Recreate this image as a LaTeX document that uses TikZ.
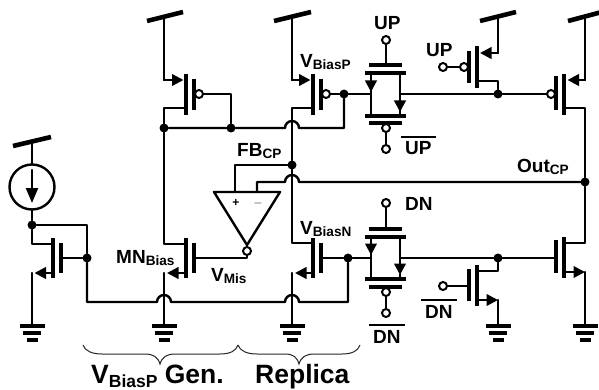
\documentclass[tikz,border=0pt]{standalone}
\usepackage{fontspec}
\setmainfont{Liberation Sans}
\usetikzlibrary{arrows.meta}
\usetikzlibrary{positioning}

\newcommand{\lblsub}[1]{\raisebox{-2pt}{\fontsize{13.6}{15}\selectfont #1}}
\newcommand{\barlbl}[1]{\vbox{\hrule height 1.6pt\vskip 4pt\hbox{\kern4pt #1\kern4pt}}}

\tikzset{
  wire/.style={line width=2.4pt,black,line cap=round,line join=round},
  chan/.style={line width=4pt,black},
  vddbar/.style={line width=4.6pt,black},
  gndone/.style={line width=3.4pt,black},
  src/.style={wire,-{Triangle[length=11.5pt,width=11.5pt]}},
  jdot/.style={circle,fill=black,inner sep=0pt,minimum size=9pt},
  pin/.style={circle,draw=black,fill=white,line width=2pt,inner sep=0pt,minimum size=8pt},
  lbl/.style={anchor=base west,inner sep=0pt,font=\bfseries\fontsize{19}{22}\selectfont},
  biglbl/.style={anchor=base west,inner sep=0pt,font=\bfseries\fontsize{26.5}{30}\selectfont},
  brace/.style={line width=1pt,black!85}
}

\begin{document}
\begin{tikzpicture}[x=1pt,y=-1pt]
\useasboundingbox (0,0) rectangle (599,390);

%supply bars
\draw[vddbar](147,21)--(183,12);
\draw[vddbar](274,21)--(311,12);
\draw[vddbar](480,21)--(516,12);
\draw[vddbar](568,21)--(600,12.5);
\draw[vddbar](13,146)--(51,137);

%ground bars
\foreach \gx in {32,164,292,498,585}{
\draw[gndone](\gx-12.5,326)--(\gx+12.5,326);
\draw[gndone](\gx-9,333)--(\gx+9,333);
\draw[gndone](\gx-5.5,340)--(\gx+5.5,340);
}

%junctions
\node[jdot] (biasdot) at (32,225) {};
\node[jdot] (mirdot) at (87,258) {};
\node[jdot] (gendot) at (164,128) {};
\node[jdot] (gatedot) at (231,128) {};
\node[jdot] (fbdot) at (292,165) {};
\node[jdot] (pgdot) at (344,94) {};
\node[jdot] (ngdot) at (348,258) {};
\node[jdot] (updot) at (498,94) {};
\node[jdot] (dndot) at (498,258) {};
\node[jdot] (outdot) at (585,182) {};

%current source
\node[circle,draw=black,line width=2.4pt,inner sep=0pt,minimum size=45pt] (isrc) at (32,187) {};
\draw[wire](32,142)--(isrc.north);
\draw[wire,-{Triangle[length=15pt,width=12pt]}](32,170)--(32,203);
\draw[wire](isrc.south)--(biasdot);

%diode device on the left
\draw[chan](53,238)--(53,278);
\draw[chan](61,243)--(61,273);
\draw[wire](biasdot)--(32,244)--(53,244);
\draw[src](53,273)--(34.5,273);
\draw[wire](32,273)--(32,326);
\draw[wire](61,258)--(mirdot);
\draw[wire](biasdot)-|(mirdot);
\draw[wire](mirdot)--(87,302)--(157,302) arc[start angle=180,end angle=0,radius=7pt]
  --(285,302) arc[start angle=180,end angle=0,radius=7pt]--(348,302)--(ngdot);

%generator column
\draw[wire](164,17)--(164,80);
\draw[src](164,80)--(183.5,80);
\draw[chan](186,74)--(186,115);
\draw[chan](194,79)--(194,110);
\node[pin] (genbub) at (199,94) {};
\draw[wire](genbub)-|(gatedot);
\draw[wire](186,108)--(164,108)--(gendot);
\draw[wire](gendot)--(gatedot)--(285,128) arc[start angle=180,end angle=0,radius=7pt]--(344,128)--(pgdot);
\draw[wire](gendot)--(164,244)--(186,244);
\draw[chan](186,238)--(186,278);
\draw[chan](194,243)--(194,273);
\draw[src](186,273)--(167,273);
\draw[wire](164,273)--(164,326);

%replica column
\draw[wire](292,17)--(292,80);
\draw[src](292,80)--(310.5,80);
\draw[chan](313,74)--(313,115);
\draw[chan](321,79)--(321,110);
\node[pin] (repbub) at (326,94) {};
\draw[wire](repbub)--(pgdot);
\draw[wire](pgdot)--(371,94);
\draw[wire](313,108)--(292,108)--(fbdot);
\draw[wire](fbdot)--(292,243)--(313,243);
\draw[chan](313,238)--(313,278);
\draw[chan](321,243)--(321,273);
\draw[wire](321,258)--(ngdot);
\draw[wire](ngdot)--(371,258);
\draw[src](313,273)--(295,273);
\draw[wire](292,273)--(292,326);

%amplifier
\draw[wire](214,192)--(280,192)--(247,245)--cycle;
\node[pin] (ampbub) at (247,251) {};
\draw[wire](fbdot)-|(235,192);
\draw[wire](257,192)--(257,182)--(285,182) arc[start angle=180,end angle=0,radius=7pt]--(outdot);
\draw[wire](ampbub)--(247,258)--(194,258);
\node[inner sep=0pt,font=\bfseries\fontsize{12}{14}\selectfont] (amplus) at (236,203) {+};
\node[inner sep=0pt,font=\bfseries\fontsize{12}{14}\selectfont] (amminus) at (258,203) {$-$};

%upper switch
\draw[chan](369,65)--(402,65);
\draw[chan](365,73)--(406,73);
\draw[chan](365,116)--(406,116);
\draw[chan](369,123)--(402,123);
\draw[wire](371,73)--(371,116);
\draw[wire](400,73)--(400,116);
\draw[wire,-{Triangle[length=11.5pt,width=11.5pt]}](371,75)--(371,92);
\draw[wire,-{Triangle[length=11.5pt,width=11.5pt]}](400,90)--(400,112);
\node[pin] (uptop) at (386,40) {};
\draw[wire](uptop)--(386,65);
\node[pin] (upbub) at (386,128) {};
\node[pin] (uplow) at (386,149) {};
\draw[wire](upbub)--(uplow);
\draw[wire](400,94)--(updot);

%lower switch
\draw[chan](369,229)--(402,229);
\draw[chan](365,237)--(406,237);
\draw[chan](365,279)--(406,279);
\draw[chan](369,287)--(402,287);
\draw[wire](371,237)--(371,279);
\draw[wire](400,237)--(400,279);
\draw[wire,-{Triangle[length=11.5pt,width=11.5pt]}](371,240)--(371,255);
\draw[wire,-{Triangle[length=11.5pt,width=11.5pt]}](400,255)--(400,275);
\node[pin] (dntop) at (386,203) {};
\draw[wire](dntop)--(386,229);
\node[pin] (dnbub) at (386,292) {};
\node[pin] (dnlow) at (386,313) {};
\draw[wire](dnbub)--(dnlow);
\draw[wire](400,258)--(dndot);

%switching devices
\draw[wire](498,17)--(498,53);
\draw[src](498,53)--(480,53);
\draw[chan](477,46)--(477,88);
\draw[chan](469,51)--(469,83);
\node[pin] (upgbub) at (464,67) {};
\node[pin] (upgin) at (443,67) {};
\draw[wire](upgin)--(upgbub);
\draw[wire](477,81)--(498,81)--(updot);
\draw[wire](dndot)--(498,271)--(477,271);
\draw[chan](477,265)--(477,306);
\draw[chan](469,269)--(469,301);
\node[pin] (dngin) at (443,286) {};
\draw[wire](dngin)--(469,286);
\draw[src](477,300)--(498,300);
\draw[wire](498,300)--(498,326);

%output column
\draw[wire](585,17)--(585,80);
\draw[src](585,80)--(567.5,80);
\draw[chan](564,74)--(564,115);
\draw[chan](556,76)--(556,110);
\node[pin] (outpbub) at (551,94) {};
\draw[wire](updot)--(outpbub);
\draw[wire](564,108)--(585,108)--(outdot);
\draw[wire](outdot)--(585,243)--(564,243);
\draw[chan](564,237)--(564,278);
\draw[chan](556,240)--(556,273);
\draw[wire](dndot)--(556,258);
\draw[src](564,272)--(585,272);
\draw[wire](585,272)--(585,326);

%braces
\draw[brace](83,345) .. controls (85,351) and (92,354) .. (102,354) -- (145,354) .. controls (153,354) and (158,357) .. (160,364) .. controls (162,357) and (167,354) .. (175,354) -- (220,354) .. controls (230,354) and (236,351) .. (238,345);
\draw[brace](238,345) .. controls (240,351) and (247,354) .. (257,354) -- (285,354) .. controls (293,354) and (297,357) .. (299,364) .. controls (301,357) and (306,354) .. (314,354) -- (342,354) .. controls (352,354) and (358,351) .. (360,345);

%labels
\node[lbl] (uplbl) at (374,30) {UP};
\node[lbl] (upglbl) at (426,57) {UP};
\node[lbl] (upbar) at (401,155) {\barlbl{UP}};
\node[lbl] (dnlbl) at (405,210) {DN};
\node[lbl] (dnbar) at (369,343) {\barlbl{DN}};
\node[lbl] (dngbar) at (421,318) {\barlbl{DN}};
\node[lbl] (outlbl) at (517,172) {Out\lblsub{CP}};
\node[lbl] (fblbl) at (237,157) {FB\lblsub{CP}};
\node[lbl] (vplbl) at (300,68) {V\lblsub{BiasP}};
\node[lbl] (vnlbl) at (300,234) {V\lblsub{BiasN}};
\node[lbl] (mnlbl) at (116,263) {MN\lblsub{Bias}};
\node[lbl] (vmlbl) at (211,281) {V\lblsub{Mis}};
\node[biglbl] (genlbl) at (91,383) {V\raisebox{-4pt}{\fontsize{17.5}{20}\selectfont BiasP} Gen.};
\node[biglbl] (replbl) at (255,383) {Replica};

\end{tikzpicture}
\end{document}
